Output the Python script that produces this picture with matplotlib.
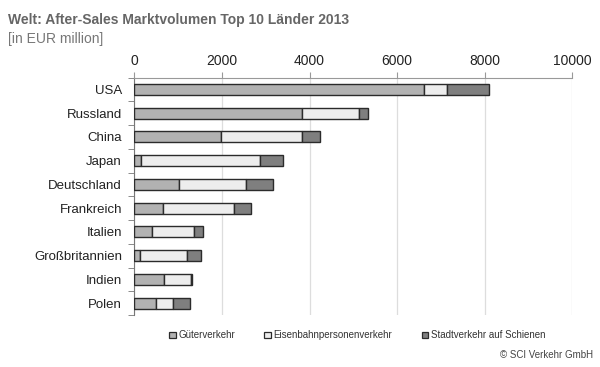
import numpy as np
import matplotlib
matplotlib.use("Agg")
import matplotlib.pyplot as plt
from matplotlib.patches import Rectangle

plt.rcParams['font.family'] = ['Liberation Sans', 'DejaVu Sans']

# Data (EUR million)
countries = ["USA", "Russland", "China", "Japan", "Deutschland", "Frankreich",
             "Italien", "Großbritannien", "Indien", "Polen"]
gueter = [6620, 3820, 1970, 150, 1010, 660, 400, 130, 680, 500]
eisenbahn = [510, 1310, 1860, 2720, 1540, 1620, 950, 1080, 615, 370]
stadt = [970, 200, 400, 520, 625, 380, 220, 300, 30, 395]
series_names = ["Güterverkehr", "Eisenbahnpersonenverkehr", "Stadtverkehr auf Schienen"]
xticks = [0, 2000, 4000, 6000, 8000, 10000]

colors = ["#b2b2b2", "#ededed", "#7f7f7f"]
edge = "#2b2b2b"

fig = plt.figure(figsize=(6, 3.67), dpi=100)
ax = fig.add_axes([0.224, 0.1417, 0.730, 0.647])

y = np.arange(len(countries))
left = np.zeros(len(countries))
for vals, c in zip([gueter, eisenbahn, stadt], colors):
    ax.barh(y, vals, left=left, height=0.46, color=c, edgecolor=edge, linewidth=1.0, zorder=3)
    left += np.array(vals)

ax.set_xlim(0, 10000)
ax.set_ylim(len(countries) - 0.5, -0.5)
ax.xaxis.tick_top()
ax.set_xticks(xticks)
ax.set_xticklabels([str(t) for t in xticks], fontsize=10, color="#222222")
ax.tick_params(axis="x", length=4, color="#999999", pad=3)
ax.grid(axis="x", color="#dddddd", linewidth=0.9, zorder=0)

ax.set_yticks(y)
ax.set_yticklabels(countries, fontsize=9.5, color="#222222")
ax.set_yticks(np.arange(len(countries) + 1) - 0.5, minor=True)
ax.tick_params(axis="y", which="major", length=0, pad=9)
ax.tick_params(axis="y", which="minor", length=4, color="#777777")

for s in ["right", "bottom"]:
    ax.spines[s].set_visible(False)
ax.spines["top"].set_color("#999999")
ax.spines["left"].set_color("#777777")

fig.text(0.013, 0.945, "Welt: After-Sales Marktvolumen Top 10 Länder 2013",
         fontsize=10, fontweight="bold", color="#666666", va="center")
fig.text(0.013, 0.893, "[in EUR million]", fontsize=10, color="#777777", va="center")

# legend
leg_x = [0.282, 0.440, 0.703]
for lx, name, c in zip(leg_x, series_names, colors):
    fig.patches.append(Rectangle((lx, 0.078), 0.011, 0.018, transform=fig.transFigure,
                                 facecolor=c, edgecolor=edge, linewidth=0.9))
    fig.text(lx + 0.016, 0.087, name, fontsize=7, color="#333333", va="center")

fig.text(0.988, 0.033, "© SCI Verkehr GmbH", fontsize=7, color="#444444",
         ha="right", va="center")

fig.savefig("out.png", dpi=100, facecolor="white")
